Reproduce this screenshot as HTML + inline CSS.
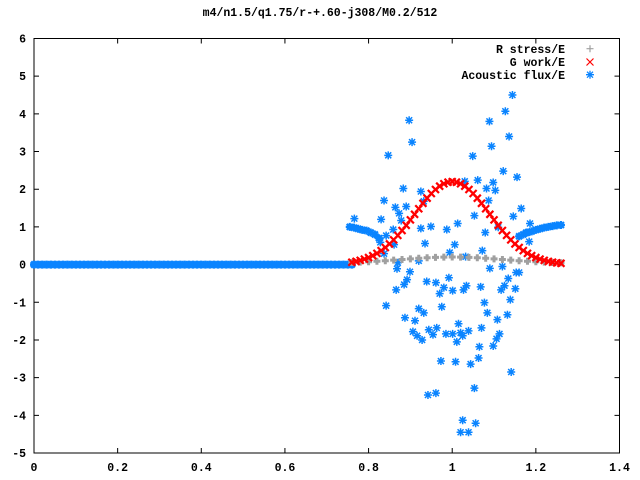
<!DOCTYPE html>
<html><head><meta charset="utf-8"><style>
body{margin:0;background:#fff}
svg{display:block}
text{font-family:"Liberation Mono",monospace;font-weight:bold;font-size:11.5px;fill:#000}
</style></head><body>
<svg id="chart" width="640" height="480" viewBox="0 0 640 480" xmlns="http://www.w3.org/2000/svg">
<text x="320" y="16" text-anchor="middle">m4/n1.5/q1.75/r-+.60-j308/M0.2/512</text>
<rect x="34" y="38.5" width="585.5" height="414.5" fill="none" stroke="#000" stroke-width="1"/>
<g id="ticks"></g><g id="series"></g>
<g>
<text x="565" y="53" text-anchor="end">R stress/E</text>
<text x="565" y="66" text-anchor="end">G work/E</text>
<text x="565" y="79" text-anchor="end">Acoustic flux/E</text>
<g id="legmarks"></g>
</g>
</svg>
<script>
const xTicks=[0,0.2,0.4,0.6,0.8,1,1.2,1.4];
const xTickLabels=["0","0.2","0.4","0.6","0.8","1","1.2","1.4"];
const yTicks=[-5,-4,-3,-2,-1,0,1,2,3,4,5,6];
const yTickLabels=["-5","-4","-3","-2","-1","0","1","2","3","4","5","6"];
// G work curve, x = 0.76..1.26 step 0.01
const gStart=0.76, gStep=0.01;
const gWork=[0.063,0.084,0.111,0.145,0.186,0.237,0.298,0.370,0.453,0.548,0.656,0.775,0.904,1.043,1.187,1.334,1.482,1.626,1.762,1.886,1.993,2.081,2.146,2.187,2.2,2.187,2.146,2.081,1.993,1.886,1.762,1.626,1.482,1.334,1.187,1.043,0.904,0.775,0.656,0.548,0.453,0.370,0.298,0.237,0.186,0.145,0.111,0.084,0.063,0.046,0.034];
// R stress, x = 0.76..1.26 step 0.02
const rStart=0.76, rStep=0.02;
const rStress=[0.055,0.064,0.075,0.088,0.102,0.118,0.135,0.152,0.167,0.181,0.191,0.198,0.2,0.198,0.191,0.181,0.167,0.152,0.135,0.118,0.102,0.088,0.075,0.064,0.055,0.05];
// Acoustic flux flat part, x = 0..0.76 step 0.01
const fluxFlatStart=0, fluxFlatStep=0.01;
const fluxFlat=Array(77).fill(0);
const fluxLeftX=[0.755,0.765,0.775,0.785,0.795,0.805,0.815,0.825];
const fluxLeftY=[1.0,0.98,0.95,0.92,0.9,0.85,0.8,0.7];
const fluxRightX=[1.16,1.17,1.18,1.19,1.2,1.21,1.22,1.23,1.24,1.25,1.26];
const fluxRightY=[0.75,0.8,0.85,0.88,0.92,0.95,0.98,1.0,1.02,1.04,1.05];
const fluxScatter=[[1.144,4.50],[1.127,4.07],[0.897,3.83],[1.089,3.80],[1.136,3.40],[0.904,3.25],[1.094,3.14],[0.847,2.90],[1.049,2.88],[1.122,2.48],[1.155,2.32],[1.061,2.24],[1.030,2.21],[1.098,2.18],[0.883,2.02],[1.082,2.02],[1.103,1.97],[0.925,1.94],[0.837,1.70],[1.087,1.70],[0.932,1.68],[0.864,1.52],[0.890,1.54],[1.165,1.49],[0.873,1.36],[0.766,1.22],[0.830,1.20],[1.053,1.30],[1.146,1.28],[0.878,1.17],[1.013,1.09],[0.949,1.01],[0.925,0.96],[1.186,1.09],[0.987,0.93],[0.859,0.93],[1.079,0.85],[1.110,0.99],[0.842,0.77],[1.177,0.85],[0.828,0.59],[0.935,0.56],[0.861,0.53],[1.006,0.53],[1.072,0.37],[1.184,0.61],[0.837,0.29],[0.994,0.32],[1.032,0.21],[0.87,0.05],[0.92,0.1],[1.09,-0.1],[1.12,-0.05],
[0.868,-0.11],[0.899,-0.19],[0.892,-0.40],[0.885,-0.53],[0.866,-0.67],[0.939,-0.45],[0.961,-0.48],[0.992,-0.35],[0.980,-0.61],[1.001,-0.69],[0.970,-0.77],[1.034,-0.56],[1.027,-0.67],[1.068,-0.59],[1.125,-0.56],[1.117,-0.67],[1.151,-0.64],[1.134,-0.37],[1.153,-0.21],[1.160,-0.21],[1.077,-1.01],[1.139,-0.93],[0.842,-1.09],[0.920,-1.17],[0.932,-1.28],[0.975,-1.12],[1.084,-1.28],[1.132,-1.33],[1.108,-1.46],[0.887,-1.41],[0.911,-1.49],[1.015,-1.57],[1.070,-1.68],[0.906,-1.78],[0.916,-1.89],[0.928,-2.00],[0.944,-1.73],[0.963,-1.68],[0.954,-1.86],[0.985,-1.84],[1.001,-1.84],[1.020,-1.81],[1.039,-1.76],[1.025,-1.89],[1.011,-2.05],[1.113,-1.84],[1.106,-1.97],[1.098,-2.16],[1.065,-2.18],[1.063,-2.48],[0.973,-2.56],[1.008,-2.58],[1.044,-2.64],[1.141,-2.85],[1.053,-3.28],[0.942,-3.46],[0.961,-3.41],[1.025,-4.13],[1.056,-4.21],[1.020,-4.45],[1.039,-4.45]];

const X0=34,X1=619.5,Y0=453,Y1=38.5;
const sx=v=>X0+(v-0)/(1.4-0)*(X1-X0);
const sy=v=>Y0-(v-(-5))/(6-(-5))*(Y0-Y1);
const NS="http://www.w3.org/2000/svg";
function mk(tag,parent,attrs){const e=document.createElementNS(NS,tag);for(const k in attrs)e.setAttribute(k,attrs[k]);parent.appendChild(e);return e;}
const ticks=document.getElementById('ticks');
xTicks.forEach((t,i)=>{
  const x=sx(t);
  const l1=mk('path',ticks,{d:`M${x},${Y0}v-5M${x},${Y1}v5`,stroke:'#000',fill:'none'});
  
  
  const tx=mk('text',ticks,{x:x,y:471,'text-anchor':'middle'});
  
  
  tx.textContent=xTickLabels[i];
});
yTicks.forEach((t,i)=>{
  const y=sy(t);
  const l1=mk('path',ticks,{d:`M${X0},${y}h5M${X1},${y}h-5`,stroke:'#000',fill:'none'});
  
  
  const tx=mk('text',ticks,{x:26,y:y+4,'text-anchor':'end'});
  
  
  tx.textContent=yTickLabels[i];
});
const ser=document.getElementById('series');
function plus(g,x,y,c,w){return mk('path',g,{d:`M${x-3.5},${y}h7M${x},${y-3.5}v7`,stroke:c,'stroke-width':w||1.2,fill:'none'});}
function cross(g,x,y,c,w){return mk('path',g,{d:`M${x-3.5},${y-3.5}l7,7M${x-3.5},${y+3.5}l7,-7`,stroke:c,'stroke-width':w||1.2,fill:'none'});}
function star(g,x,y,c,w){return mk('path',g,{d:`M${x-4},${y}h8M${x},${y-4}v8M${x-3},${y-3}l6,6M${x-3},${y+3}l6,-6`,stroke:c,'stroke-width':w||1.3,fill:'none'});}
const BLUE='#0a84ff',RED='#ff0000',GRAY='#a0a0a0';
const gF=mk('g',ser,{});


fluxFlat.forEach((v,i)=>{const m=star(gF,sx(fluxFlatStart+i*fluxFlatStep),sy(v),BLUE,2.6);
  
  });
fluxLeftX.forEach((x,i)=>{const m=star(gF,sx(x),sy(fluxLeftY[i]),BLUE,2.2);
  
  });
fluxRightX.forEach((x,i)=>{const m=star(gF,sx(x),sy(fluxRightY[i]),BLUE,2.2);
  
  });
fluxScatter.forEach(p=>{const m=star(gF,sx(p[0]),sy(p[1]),BLUE,1.5);
  
  });
const gR=mk('g',ser,{});


rStress.forEach((v,i)=>{const m=plus(gR,sx(rStart+i*rStep),sy(v),GRAY,3);
  
  });
const gG=mk('g',ser,{});


gWork.forEach((v,i)=>{const m=cross(gG,sx(gStart+i*gStep),sy(v),RED,2.2);
  
  });
const lm=document.getElementById('legmarks');
let a=plus(lm,590,48.7,GRAY);


a=cross(lm,590,62,RED);


a=star(lm,590,74.7,BLUE);


</script>
</body></html>
